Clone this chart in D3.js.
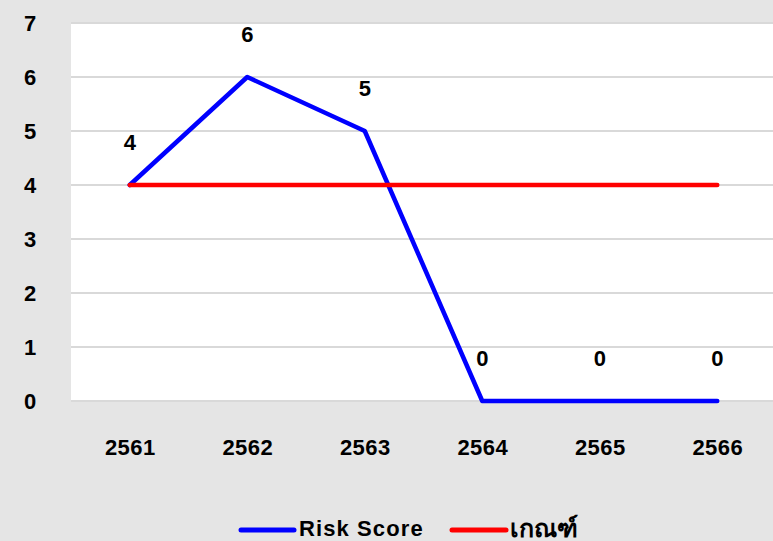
<!DOCTYPE html>
<html>
<head>
<meta charset="utf-8">
<script src="https://cdn.jsdelivr.net/npm/d3@7"></script>
<style>
  html, body { margin: 0; padding: 0; background: #e5e5e5; }
  svg { display: block; font-family: Arial, "Liberation Sans", sans-serif; }
</style>
</head>
<body>
<svg id="chart" width="773" height="541"></svg>
<script>
// Years (Buddhist era) on the x axis
const years = ["2561", "2562", "2563", "2564", "2565", "2566"];
// Risk score per year
const riskScore = [4, 6, 5, 0, 0, 0];
// Threshold (เกณฑ์) per year
const threshold = [4, 4, 4, 4, 4, 4];
// Y axis ticks
const yTicks = [0, 1, 2, 3, 4, 5, 6, 7];
// Legend entries
const seriesNames = ["Risk Score", "เกณฑ์"];
const seriesColors = ["#0000ff", "#ff0000"];

const W = 773, H = 541;
const plot = { left: 71, right: 776, top: 23, bottom: 401 };

const svg = d3.select("#chart");
svg.append("rect").attr("width", W).attr("height", H).attr("fill", "#e5e5e5");

const x = d3.scalePoint().domain(years).range([plot.left, plot.right]).padding(0.5);
const y = d3.scaleLinear().domain([0, 7]).range([plot.bottom, plot.top]);

// White plotting area
svg.append("rect")
  .attr("x", plot.left).attr("y", plot.top)
  .attr("width", plot.right - plot.left).attr("height", plot.bottom - plot.top)
  .attr("fill", "#ffffff");

// Horizontal gridlines
svg.append("g").selectAll("line").data(yTicks).join("line")
  .attr("x1", plot.left).attr("x2", plot.right)
  .attr("y1", d => y(d)).attr("y2", d => y(d))
  .attr("stroke", "#d9d9d9").attr("stroke-width", 2);

// Y axis labels
const yAxis = d3.axisLeft(y).tickValues(yTicks).tickSize(0).tickPadding(0).tickFormat(d3.format("d"));
const gy = svg.append("g").attr("transform", "translate(30,0)").call(yAxis);
gy.select(".domain").remove();
gy.selectAll("text")
  .attr("text-anchor", "middle").attr("dy", "0.35em").attr("x", 0)
  .style("font-size", "22px").style("font-weight", "bold").attr("fill", "#000");

// X axis labels
const xAxis = d3.axisBottom(x).tickSize(0).tickPadding(0);
const gx = svg.append("g").attr("transform", "translate(0,447)").call(xAxis);
gx.select(".domain").remove();
gx.selectAll("text")
  .attr("dy", "0.35em").attr("y", 0)
  .style("font-size", "22px").style("font-weight", "bold")
  .style("letter-spacing", "0.4px").attr("fill", "#000");

const line = d3.line().x((d, i) => x(years[i])).y(d => y(d));

// Risk score line
svg.append("path").datum(riskScore)
  .attr("d", line).attr("fill", "none")
  .attr("stroke", seriesColors[0]).attr("stroke-width", 4.5)
  .attr("stroke-linejoin", "round").attr("stroke-linecap", "round");

// Threshold line
svg.append("path").datum(threshold)
  .attr("d", line).attr("fill", "none")
  .attr("stroke", seriesColors[1]).attr("stroke-width", 4.5)
  .attr("stroke-linejoin", "round").attr("stroke-linecap", "round");

// Value labels above the risk score points
svg.append("g").selectAll("text").data(riskScore).join("text")
  .attr("x", (d, i) => x(years[i]))
  .attr("y", d => y(d) - 43)
  .attr("dy", "0.35em")
  .attr("text-anchor", "middle")
  .style("font-size", "22px").style("font-weight", "bold")
  .text(d => d);

// Legend
const legendItems = [
  { x1: 241, x2: 294, tx: 299, ls: "1.1px", fs: "22px" },
  { x1: 452, x2: 506, tx: 510, ls: "0px", fs: "25px" }
];
const lg = svg.append("g");
legendItems.forEach((p, i) => {
  lg.append("line")
    .attr("x1", p.x1).attr("x2", p.x2).attr("y1", 530).attr("y2", 530)
    .attr("stroke", seriesColors[i]).attr("stroke-width", 5).attr("stroke-linecap", "round");
  lg.append("text")
    .attr("x", p.tx).attr("y", 528).attr("dy", "0.35em")
    .style("font-size", p.fs).style("font-weight", "bold")
    .style("letter-spacing", p.ls)
    .text(seriesNames[i]);
});
</script>
</body>
</html>
